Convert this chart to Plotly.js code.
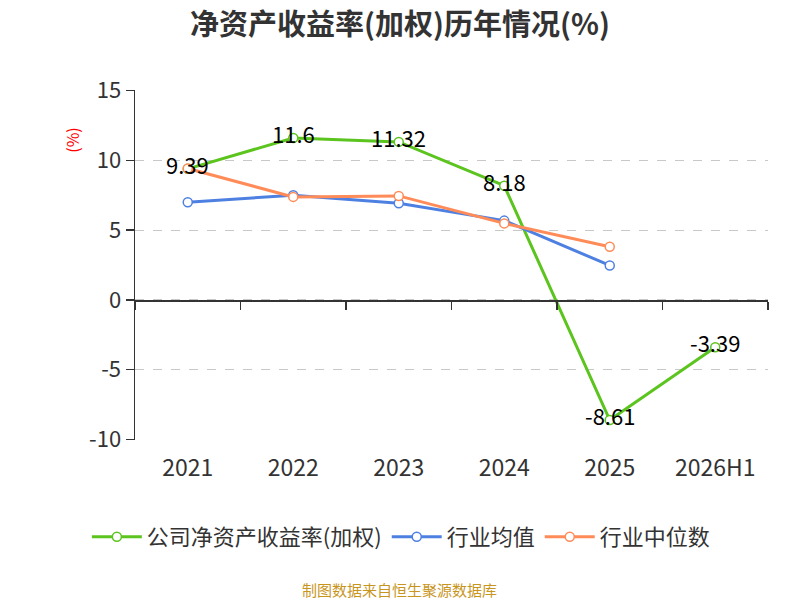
<!DOCTYPE html>
<html>
<head>
<meta charset="utf-8">
<script src="https://cdn.plot.ly/plotly-3.0.1.min.js"></script>
<style>
  html, body { margin: 0; padding: 0; background: #fff; }
  #chart { width: 800px; height: 600px; }
</style>
</head>
<body>
<div id="chart"></div>
<script>
const years = ["2021", "2022", "2023", "2024", "2025", "2026H1"];
const companyRoe = [9.39, 11.6, 11.32, 8.18, -8.61, -3.39];
const industryAvg = [7.0, 7.5, 6.92, 5.68, 2.47, null];
const industryMedian = [9.41, 7.38, 7.45, 5.48, 3.81, null];
const yTicks = [-10, -5, 0, 5, 10, 15];
const yTickText = ["-10", "-5", "0", "5", "10", "15"];

const FONT = '"Noto Sans CJK SC", "Noto Sans", sans-serif';

function lineTrace(name, y, color) {
  return {
    x: years,
    y: y,
    name: name,
    type: 'scatter',
    mode: 'lines+markers',
    line: { color: color, width: 3 },
    marker: { symbol: 'circle', size: 9, color: '#fff', line: { color: color, width: 1.5 } },
    hoverinfo: 'x+y'
  };
}

const traces = [
  lineTrace('公司净资产收益率(加权)', companyRoe, '#5cc41e'),
  lineTrace('行业均值', industryAvg, '#4e80e2'),
  lineTrace('行业中位数', industryMedian, '#ff8c58'),
  // carrier for the boundary ticks along the zero line
  { x: years, y: years.map(() => null), xaxis: 'x2', type: 'scatter', mode: 'lines',
    showlegend: false, hoverinfo: 'skip' }
];

// value labels on the company line (x by category index)
const labels = companyRoe.map((v, i) => ({
  x: i, y: v, text: String(v),
  showarrow: false, yshift: 5,
  font: { family: FONT, size: 22, color: '#000' }
}));

const layout = {
  width: 800,
  height: 600,
  margin: { l: 135, r: 32, t: 90, b: 160 },
  paper_bgcolor: '#fff',
  plot_bgcolor: '#fff',
  font: { family: FONT, color: '#333' },
  title: {
    text: '<b>净资产收益率(加权)历年情况(%)</b>',
    x: 0.5, xanchor: 'center', y: 0.958, yanchor: 'middle',
    font: { family: FONT, size: 29, color: '#333' }
  },
  xaxis: {
    type: 'category',
    categoryorder: 'array',
    categoryarray: years,
    range: [-0.5, 5.5],
    showline: false,
    showgrid: false,
    zeroline: false,
    ticks: '',
    ticklabelstandoff: 12,
    tickfont: { family: FONT, size: 23, color: '#333' },
    fixedrange: true
  },
  xaxis2: {
    type: 'category',
    categoryorder: 'array',
    categoryarray: years,
    range: [-0.5, 5.5],
    overlaying: 'x',
    anchor: 'free',
    position: 0.4,
    showline: true,
    linecolor: '#333',
    linewidth: 1.5,
    ticks: 'outside',
    tickson: 'boundaries',
    ticklen: 8,
    tickwidth: 1.5,
    tickcolor: '#333',
    showgrid: false,
    zeroline: false,
    showticklabels: false
  },
  yaxis: {
    range: [-10.04, 15.04],
    tickmode: 'array',
    tickvals: yTicks,
    ticktext: yTickText,
    showline: true,
    linecolor: '#333',
    linewidth: 1.5,
    ticks: 'outside',
    ticklen: 8,
    tickwidth: 1.5,
    tickcolor: '#333',
    showgrid: true,
    gridcolor: '#c8c8c8',
    griddash: 'dash',
    gridwidth: 1.2,
    zeroline: false,
    tickfont: { family: FONT, size: 22, color: '#333' },
    fixedrange: true
  },
  legend: {
    orientation: 'h',
    x: 0.42, xanchor: 'center',
    y: -0.277, yanchor: 'middle',
    font: { family: FONT, size: 22, color: '#333' },
    itemwidth: 50
  },
  showlegend: true,
  annotations: labels.concat([
    {
      text: '(%)', xref: 'paper', yref: 'paper', x: -0.122, y: 0.9,
      textangle: -90, showarrow: false,
      font: { family: FONT, size: 16, color: '#ff0000' }
    },
    {
      text: '制图数据来自恒生聚源数据库', xref: 'paper', yref: 'paper', x: 0.418, y: -0.462,
      showarrow: false,
      font: { family: FONT, size: 15, color: '#c8961e' }
    }
  ])
};

Plotly.newPlot('chart', traces, layout, { displayModeBar: false, staticPlot: true });
</script>
</body>
</html>
